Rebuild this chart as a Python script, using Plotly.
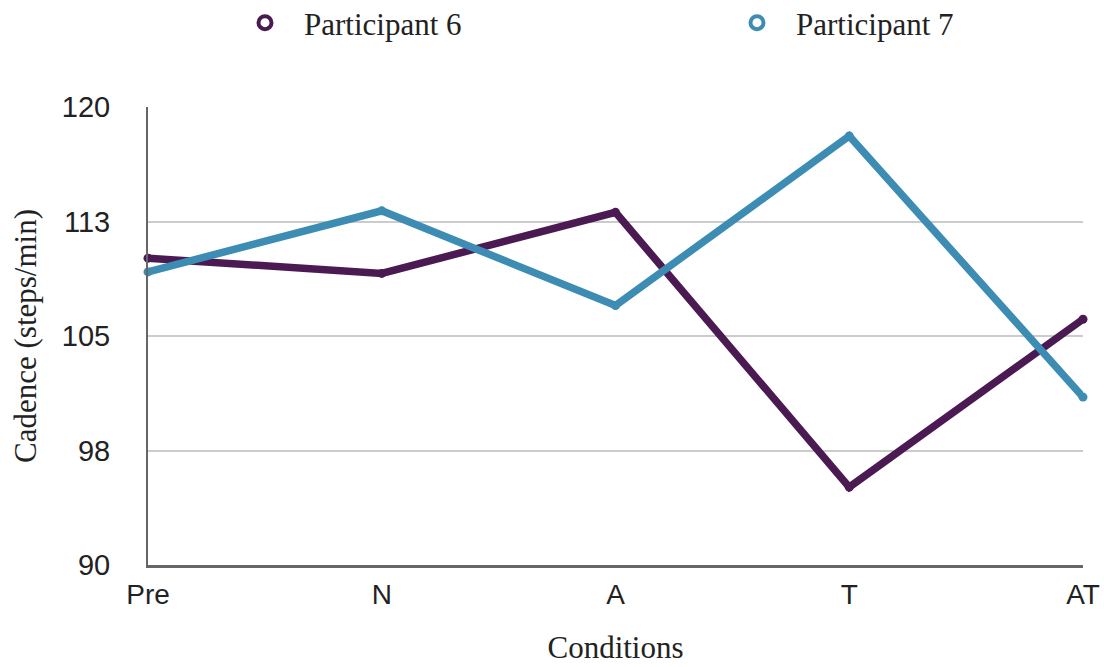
import plotly.graph_objects as go

conditions = ["Pre", "N", "A", "T", "AT"]
participant_6 = [110.1, 109.1, 113.1, 95.1, 106.1]
participant_7 = [109.2, 113.2, 107.0, 118.1, 101.0]
tick_vals = [90, 97.5, 105, 112.5, 120]
tick_text = ["90", "98", "105", "113", "120"]

c6 = "#4b1a52"
c7 = "#3d8cb3"

W, H = 1104, 667
L, R, T, B = 148, 21, 107, 102
PW = W - L - R
fig = go.Figure()
series = [("Participant 6", participant_6, c6, "legend"),
          ("Participant 7", participant_7, c7, "legend2")]
for name, vals, col, leg in series:
    fig.add_trace(go.Scatter(
        x=conditions, y=vals, mode="lines+markers", name=name,
        line=dict(color=col, width=7.5), marker=dict(color=col, size=9),
        cliponaxis=False, showlegend=False))
    fig.add_trace(go.Scatter(
        x=[None], y=[None], mode="markers", name=name, legend=leg,
        marker=dict(symbol="circle-open", color=col, size=13, line=dict(width=4, color=col)),
        showlegend=True))

legfont = dict(family="Liberation Serif", size=31, color="#222")
common = dict(orientation="h", xanchor="left", yanchor="middle", yref="container",
              y=1 - 23 / H, font=legfont, bgcolor="rgba(0,0,0,0)", itemwidth=68)
fig.update_layout(
    width=W, height=H,
    paper_bgcolor="white", plot_bgcolor="white",
    margin=dict(l=L, r=R, t=T, b=B),
    legend=dict(x=(226 - L) / PW, **common),
    legend2=dict(x=(718 - L) / PW, **common),
    xaxis=dict(type="category", range=[0, 4], showgrid=False, showline=True,
               linecolor="#666", linewidth=3, ticks="", automargin=False,
               ticklabelstandoff=2,
               tickfont=dict(family="Liberation Sans", size=28, color="#222"),
               title=dict(text="Conditions", font=dict(family="Liberation Serif", size=31, color="#222"), standoff=28)),
    yaxis=dict(range=[90, 120], tickvals=tick_vals, ticktext=tick_text,
               showgrid=True, gridcolor="#cccccc", gridwidth=2, automargin=False,
               showline=True, linecolor="#666", linewidth=2, zeroline=False,
               ticks="", ticklabelstandoff=30,
               tickfont=dict(family="Liberation Sans", size=29, color="#222"),
               title=dict(text="Cadence (steps/min)", font=dict(family="Liberation Serif", size=31, color="#222"), standoff=16)),
)

fig.write_html("out.html", config={"displayModeBar": False},
               post_script="document.body.style.margin='0px';document.body.style.overflow='hidden';")
